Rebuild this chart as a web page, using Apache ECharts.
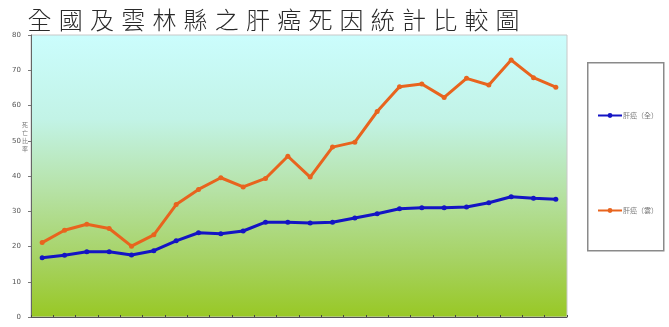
<!DOCTYPE html>
<html>
<head>
<meta charset="utf-8">
<script src="https://cdn.jsdelivr.net/npm/echarts@6/dist/echarts.min.js"></script>
<style>html,body{margin:0;padding:0;background:#fff}#c{width:669px;height:327px}</style>
</head>
<body>
<div id="c"></div>
<script>
const titleText = '全國及雲林縣之肝癌死因統計比較圖';
const categories = ['1','2','3','4','5','6','7','8','9','10','11','12','13','14','15','16','17','18','19','20','21','22','23','24'];
const seriesNames = ['肝癌（全）', '肝癌（雲）'];
const nationalValues = [16.8,17.5,18.5,18.5,17.6,18.8,21.6,23.9,23.6,24.4,26.9,26.9,26.7,26.9,28.1,29.3,30.7,31.0,31.0,31.2,32.4,34.1,33.7,33.4];
const yunlinValues = [21.1,24.6,26.3,25.1,20.1,23.3,31.9,36.2,39.5,36.9,39.3,45.6,39.7,48.2,49.6,58.3,65.3,66.1,62.3,67.7,65.8,72.9,67.9,65.2];
const yTicks = [0,10,20,30,40,50,60,70,80];
const yAxisName = '死亡比率';

const chart = echarts.init(document.getElementById('c'), null, {renderer: 'canvas'});
const cjk = '"Noto Sans CJK TC", "Noto Sans CJK SC", sans-serif';
chart.setOption({
  animation: false,
  backgroundColor: '#ffffff',
  title: {
    text: titleText.split('').map(c => '{c|' + c + '}').join(''),
    left: 19, top: 3,
    textStyle: {
      rich: { c: { fontSize: 24, width: 31.2, align: 'center', color: '#2a2a2a', fontFamily: cjk, fontWeight: 300 } }
    }
  },
  grid: {
    left: 31, right: 102, top: 35, bottom: 10,
    show: true,
    borderWidth: 1, borderColor: '#c8c8c8',
    backgroundColor: new echarts.graphic.LinearGradient(0, 0, 0, 1, [
      {offset: 0, color: '#cbfdfd'},
      {offset: 0.3, color: '#c2f3e6'},
      {offset: 0.55, color: '#b6e2a6'},
      {offset: 0.8, color: '#a6d262'},
      {offset: 1, color: '#98c824'}
    ])
  },
  legend: {
    orient: 'vertical',
    left: 592, top: 107,
    itemGap: 88,
    itemWidth: 24, itemHeight: 6,
    data: seriesNames,
    textStyle: { fontSize: 7, color: '#777', fontFamily: cjk, padding: [0,0,0,-4] }
  },
  graphic: [
    { type: 'rect', left: 587, top: 62, shape: {width: 76, height: 188}, style: {fill: '#fff', stroke: '#8a8a8a', lineWidth: 1.5}, z: -1 },
    { type: 'text', left: 22, top: 121, style: { text: yAxisName.split('').join('\n'), fontSize: 6, lineHeight: 8, fill: '#777', fontFamily: cjk } }
  ],
  xAxis: {
    type: 'category',
    data: categories,
    boundaryGap: true,
    axisLine: { lineStyle: { color: '#555', width: 1 } },
    axisTick: { show: true, inside: true, length: 2, lineStyle: { color: '#444' } },
    axisLabel: { show: false },
    splitLine: { show: false }
  },
  yAxis: {
    type: 'value',
    min: yTicks[0], max: yTicks[yTicks.length - 1], interval: 10,
    axisLine: { show: true, lineStyle: { color: '#666', width: 1 } },
    axisTick: { show: true, length: 3, lineStyle: { color: '#777' } },
    axisLabel: { fontSize: 7, color: '#555', margin: 10, fontFamily: 'DejaVu Sans' },
    splitLine: { show: false }
  },
  series: [
    {
      name: seriesNames[0], type: 'line', data: nationalValues,
      symbol: 'circle', symbolSize: 5,
      lineStyle: { color: '#1414c4', width: 3 },
      itemStyle: { color: '#1414c4' }
    },
    {
      name: seriesNames[1], type: 'line', data: yunlinValues,
      symbol: 'circle', symbolSize: 5,
      lineStyle: { color: '#e8641e', width: 3 },
      itemStyle: { color: '#e8641e' }
    }
  ]
});
</script>
</body>
</html>
